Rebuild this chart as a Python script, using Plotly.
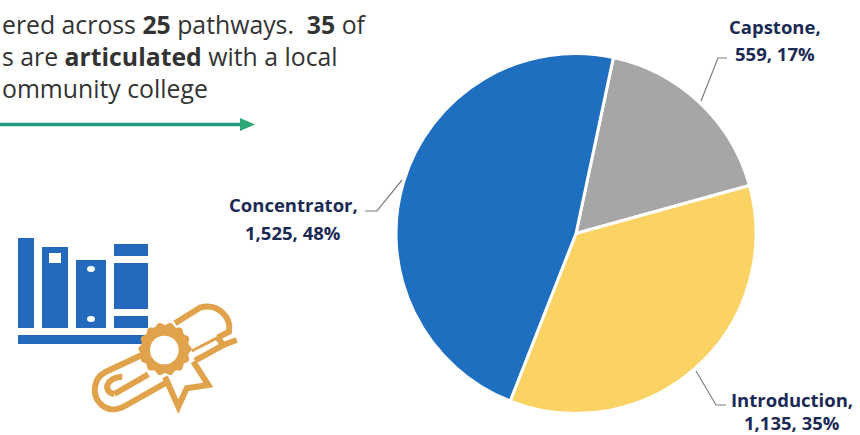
import plotly.graph_objects as go
import numpy as np

# Datos del pastel
categorias = ['Capstone', 'Introduction', 'Concentrator']
valores = [559, 1135, 1525]
porcentajes = [17, 35, 48]
colores = ['#A6A6A6', '#FBD264', '#1F6FC1']

# Texto de arriba (cortado por la izquierda como en la imagen)
lineas_texto = [
    'ered across <b>25</b> pathways.  <b>35</b> of',
    's are <b>articulated</b> with a local',
    'ommunity college',
]
y_lineas = [24, 56, 88]

# Posicion de cada etiqueta: x, y de las dos lineas, lider
pos_etiquetas = {
    'Capstone': (775, 26, 53, [(701, 101), (718, 58), (727, 58)]),
    'Introduction': (792, 399, 422, [(696, 371), (716, 405), (726, 405)]),
    'Concentrator': (293, 204, 232, [(402, 180), (377, 211), (365, 211)]),
}

NARANJA = '#E0A24A'
AZUL = '#2369BC'

fig = go.Figure()

fig.add_trace(go.Pie(
    labels=categorias,
    values=valores,
    sort=False,
    direction='clockwise',
    rotation=12,
    marker=dict(colors=colores, line=dict(color='white', width=3)),
    textinfo='none',
    showlegend=False,
    domain=dict(x=[396 / 860, 756 / 860], y=[21 / 435, 382 / 435]),
))

# Ejes ocultos en pixeles, para los adornos
fig.update_xaxes(range=[0, 860], visible=False, fixedrange=True)
fig.update_yaxes(range=[435, 0], visible=False, fixedrange=True)


def caja(x0, y0, x1, y1, color=AZUL):
    fig.add_shape(type='rect', x0=x0, y0=y0, x1=x1, y1=y1, fillcolor=color, line_width=0)


def trazo(puntos, color, ancho):
    d = 'M ' + ' L '.join(f'{x} {y}' for x, y in puntos)
    fig.add_shape(type='path', path=d, line=dict(color=color, width=ancho))


def z(x, y):
    # coordenadas del zoom del diploma a pixeles
    return f'{85 + x / 3:.1f} {295 + y / 3:.1f}'


def ruta(s, ancho=6):
    # s: lista de comandos con pares en coordenadas de zoom
    d = ''
    for cmd, *pts in s:
        d += cmd + ' ' + ' '.join(z(*p) for p in pts) + ' '
    fig.add_shape(type='path', path=d, line=dict(color=NARANJA, width=ancho))


# Libros
caja(18, 238, 34, 328)
caja(42, 247, 68, 328)
caja(49, 253, 61, 263, 'white')
caja(76, 260, 106, 328)
caja(114, 244, 148, 256)
caja(114, 263, 148, 309)
caja(114, 316, 148, 328)
caja(18, 335, 148, 344)
for cy in [269, 319]:
    fig.add_shape(type='circle', x0=87, x1=95, y0=cy - 3, y1=cy + 3, fillcolor='white', line_width=0)

# Diploma
ruta([('M', (175, 178)), ('L', (60, 232)),
      ('C', (25, 250), (20, 300), (45, 325)),
      ('C', (65, 348), (95, 348), (125, 330)),
      ('L', (245, 262))])
ruta([('M', (112, 245)), ('C', (65, 245), (50, 290), (88, 297))])
ruta([('M', (88, 297)), ('L', (190, 238))])
ruta([('M', (270, 85)), ('L', (345, 38)),
      ('C', (395, 22), (440, 65), (432, 110)),
      ('L', (398, 128))])
ruta([('M', (398, 128)), ('L', (320, 168))], 3)
ruta([('M', (398, 128)), ('L', (415, 150)), ('L', (330, 197))])
ruta([('M', (415, 150)), ('L', (455, 135))])
# Sello con borde ondulado
ang = np.linspace(0, 2 * np.pi, 113)
rad = 76 + 4 * np.cos(14 * ang)
sello = 'M ' + ' L '.join(z(240 + r * np.cos(a), 162 + r * np.sin(a)) for a, r in zip(ang, rad)) + ' Z'
fig.add_shape(type='path', path=sello, fillcolor=NARANJA, line_width=0)
fig.add_shape(type='circle', x0=85 + 195 / 3, x1=85 + 281 / 3, y0=295 + 122 / 3, y1=295 + 208 / 3,
              fillcolor='white', line_width=0)
# Cinta
ruta([('M', (240, 245)), ('L', (280, 335)), ('L', (305, 280)), ('L', (370, 270)), ('L', (325, 200))])

# Flecha verde
trazo([(0, 124.5), (242, 124.5)], '#1F9A7C', 3.5)
fig.add_shape(type='path', path='M 240 118 L 255 124.5 L 240 131 Z', fillcolor='#2BA876', line_width=0)

# Lideres y etiquetas
for cat, val, pct in zip(categorias, valores, porcentajes):
    x, y1, y2, lider = pos_etiquetas[cat]
    trazo(lider, '#7F7F7F', 1.2)
    for texto, y in [(f'{cat},', y1), (f'{val:,}, {pct}%', y2)]:
        fig.add_annotation(
            x=x, y=y, xref='x', yref='y', showarrow=False, align='center',
            text=f'<b>{texto}</b>',
            font=dict(family='Open Sans', size=18.5, color='#1B2A55'),
        )

for linea, y in zip(lineas_texto, y_lineas):
    fig.add_annotation(
        x=0, y=y, xref='x', yref='y', xanchor='left', showarrow=False, align='left',
        text=linea, font=dict(family='Open Sans', size=24.8, color='#333333'),
    )

fig.update_layout(
    width=860,
    height=435,
    margin=dict(l=0, r=0, t=0, b=0),
    paper_bgcolor='white',
    plot_bgcolor='white',
)

fig.write_html("out.html", post_script="document.body.style.margin='0';",
               config=dict(displayModeBar=False))
